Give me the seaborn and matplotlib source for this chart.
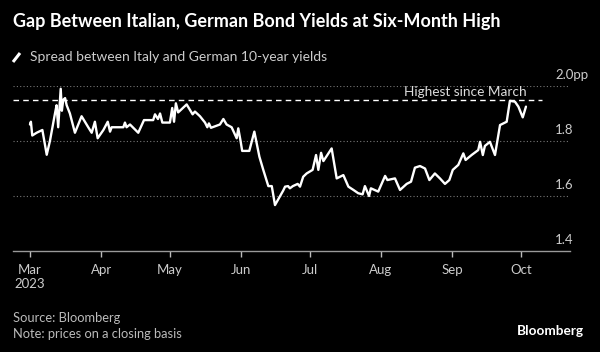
import seaborn as sns
import matplotlib.pyplot as plt
import pandas as pd
from matplotlib.lines import Line2D
from matplotlib.transforms import blended_transform_factory

sns.set_theme(style="dark")
plt.rcParams["font.family"] = ["Lato", "DejaVu Sans"]

start = pd.Timestamp("2023-03-01")

# days after 1 March 2023
day_offsets = [
    0, 0.4, 1, 2.9, 5.4, 7.3, 8.7, 10.9, 11.6, 12.3,
    13.4, 13.9, 14.5, 15.3, 16, 17.4, 19.6, 22.5, 25.4, 26.9,
    28.3, 29.5, 32, 33.9, 34.9, 35.6, 40.7, 41.4, 42.1, 43.6,
    47.2, 49.7, 53.7, 54.5, 55.8, 56.7, 57.7, 61, 62, 62.8,
    63.6, 64.6, 68.3, 70.9, 71.9, 74.1, 76.3, 77.3, 78, 78.9,
    82.8, 84.3, 85.7, 87.9, 90.1, 90.8, 91.8, 92.5, 95.6, 97.8,
    100, 101.7, 103.9, 105.4, 106.8, 110.4, 111.2, 112.5, 113.3, 114.6,
    116.7, 117.7, 119.1, 120.6, 123.2, 124.7, 125.7, 126.9, 127.9, 131.5,
    133.7, 136.6, 138.8, 141, 143.1, 145, 146, 147.8, 148.6, 151.8,
    154.8, 155.8, 159.1, 161.3, 164.2, 166.1, 167.8, 170, 172.2, 174.1,
    176.5, 178.7, 180.9, 182.8, 184.3, 186.7, 188.9, 189.9, 192.5, 195.4,
    196.2, 197.4, 198.3, 200.5, 202.7, 204.9, 207.8, 209.2, 211.4, 212.9,
    214.8, 216.2,
]
spread = [
    1.86, 1.87, 1.82, 1.83, 1.84, 1.75, 1.80, 1.90, 1.93, 1.85,
    1.99, 1.91, 1.95, 1.956, 1.93, 1.90, 1.83, 1.89, 1.85, 1.83,
    1.87, 1.81, 1.84, 1.87, 1.834, 1.85, 1.85, 1.867, 1.85, 1.86,
    1.83, 1.876, 1.876, 1.897, 1.88, 1.90, 1.867, 1.867, 1.92, 1.87,
    1.937, 1.904, 1.933, 1.897, 1.907, 1.89, 1.867, 1.85, 1.864, 1.848,
    1.86, 1.88, 1.86, 1.85, 1.81, 1.846, 1.80, 1.764, 1.764, 1.834,
    1.743, 1.695, 1.636, 1.636, 1.567, 1.62, 1.634, 1.636, 1.628, 1.636,
    1.644, 1.634, 1.67, 1.682, 1.695, 1.749, 1.695, 1.757, 1.727, 1.773,
    1.664, 1.676, 1.634, 1.622, 1.61, 1.606, 1.636, 1.60, 1.628, 1.616,
    1.673, 1.658, 1.664, 1.622, 1.644, 1.652, 1.703, 1.709, 1.70, 1.658,
    1.682, 1.664, 1.644, 1.658, 1.695, 1.713, 1.755, 1.731, 1.749, 1.767,
    1.797, 1.749, 1.782, 1.797, 1.749, 1.858, 1.87, 1.946, 1.943, 1.925,
    1.886, 1.925,
]

month_ticks = ["2023-03-01", "2023-04-01", "2023-05-01", "2023-06-01",
               "2023-07-01", "2023-08-01", "2023-09-01", "2023-10-01"]
month_labels = ["Mar\n2023", "Apr", "May", "Jun", "Jul", "Aug", "Sep", "Oct"]
y_ticks = [1.4, 1.6, 1.8, 2.0]
y_labels = ["1.4", "1.6", "1.8", "2.0pp"]
march_high = 1.95

df = pd.DataFrame({
    "date": start + pd.to_timedelta(day_offsets, unit="D"),
    "spread": spread,
})

W, H = 600, 352
fig = plt.figure(figsize=(W / 100, H / 100), dpi=100, facecolor="black")
ax = fig.add_axes([13 / W, 1 - 251 / H, 557 / W, 165 / H])
ax.set_facecolor("black")

sns.lineplot(data=df, x="date", y="spread", ax=ax, color="white",
             linewidth=1.7, sort=False, estimator=None, clip_on=False, zorder=4)

ax.set_xlim(start - pd.Timedelta(days=7.4), start + pd.Timedelta(days=235.4))
ax.set_ylim(1.4, 2.0)

# gridlines + right-side value labels sitting above them
trans = blended_transform_factory(ax.transAxes, ax.transData)
for v, lab in zip(y_ticks, y_labels):
    if v > y_ticks[0]:
        ax.axhline(v, color="#777777", lw=0.8, ls=(0, (1, 2)), zorder=1)
    ax.annotate(lab, xy=(0.973, v), xycoords=trans, xytext=(0, 5),
                textcoords="offset points", ha="left", va="baseline",
                color="#cccccc", fontsize=9.5)

ax.axhline(march_high, xmax=0.95, color="white", lw=1.0, ls=(0, (4, 3)), zorder=3)
ax.annotate("Highest since March", xy=(0.922, march_high), xycoords=trans,
            xytext=(0, 3), textcoords="offset points", ha="right", va="baseline",
            color="#dddddd", fontsize=9.8)

ax.set_xticks(pd.to_datetime(month_ticks))
ax.set_xticklabels(month_labels)
ax.set_yticks([])
ax.tick_params(axis="x", colors="#bbbbbb", labelcolor="#cccccc", labelsize=9.5,
               length=4, width=1, direction="out", pad=5, bottom=True)
ax.set_xlabel("")
ax.set_ylabel("")
ax.grid(False)
for side in ["top", "right", "left"]:
    ax.spines[side].set_visible(False)
ax.spines["bottom"].set_color("#999999")
ax.spines["bottom"].set_linewidth(1.0)

fig.text(13 / W, 1 - 22 / H, "Gap Between Italian, German Bond Yields at Six-Month High",
         color="white", fontsize=13, fontweight="bold", va="center", ha="left")
fig.add_artist(Line2D([13 / W, 20 / W], [1 - 62 / H, 1 - 53 / H],
                      transform=fig.transFigure, color="white", lw=2.2,
                      solid_capstyle="butt"))
fig.text(30 / W, 1 - 57 / H, "Spread between Italy and German 10-year yields",
         color="#cccccc", fontsize=10, va="center", ha="left")
fig.text(13 / W, 1 - 318 / H, "Source: Bloomberg", color="#bbbbbb",
         fontsize=9.3, va="center", ha="left")
fig.text(13 / W, 1 - 334 / H, "Note: prices on a closing basis", color="#bbbbbb",
         fontsize=9.3, va="center", ha="left")
fig.text(584 / W, 1 - 331 / H, "Bloomberg", color="white", fontsize=9.8,
         fontweight="bold", va="center", ha="right")

fig.savefig("out.png", dpi=100, facecolor="black")
